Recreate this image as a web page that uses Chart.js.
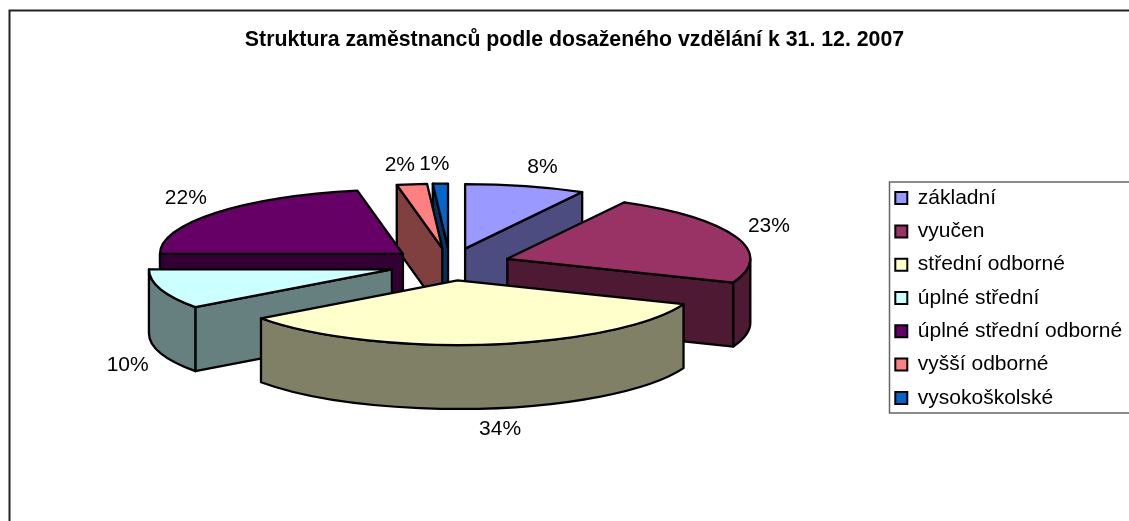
<!DOCTYPE html>
<html>
<head>
<meta charset="utf-8">
<title>Struktura zaměstnanců</title>
<script src="https://cdn.jsdelivr.net/npm/chart.js@4/dist/chart.umd.js"></script>
<style>
  html, body { margin: 0; padding: 0; background: #fff; overflow: hidden; }
  canvas { display: block; }
</style>
</head>
<body>
<canvas id="chart" width="1129" height="521"></canvas>
<script>
const TITLE = "Struktura zaměstnanců podle dosaženého vzdělání k 31. 12. 2007";
const CATEGORIES = ["základní", "vyučen", "střední odborné", "úplné střední", "úplné střední odborné", "vyšší odborné", "vysokoškolské"];
const SHARES = [8, 23, 34, 10, 22, 2, 1];
const TOP_COLORS = ["#9999ff", "#993366", "#ffffcc", "#ccffff", "#660066", "#ff8080", "#0066cc"];
const SIDE_COLORS = ["#4c4c80", "#4d1933", "#808066", "#668080", "#330033", "#804040", "#003366"];

// --- fake 3D: the pie is squashed into an ellipse and extruded downwards ------
const FONT = '"Liberation Sans", Arial, sans-serif';
const RADIUS = 243, SQUASH = 64.5 / 243, DEPTH = 64, EXPLODE = 61, OUTLINE = 2.3;

function slicePath(ctx, c, r, s, e) {
  ctx.beginPath();
  ctx.moveTo(c.x, c.y);
  ctx.ellipse(c.x, c.y, r, r * SQUASH, 0, s, e);
  ctx.closePath();
}

function paint(ctx, fill) {
  ctx.fillStyle = fill;
  ctx.fill();
  ctx.stroke();
}

// radial cut face from the apex to the rim at angle t
function cutFace(ctx, c, r, t, fill) {
  const rx = c.x + Math.cos(t) * r, ry = c.y + Math.sin(t) * r * SQUASH;
  ctx.beginPath();
  ctx.moveTo(c.x, c.y);
  ctx.lineTo(rx, ry);
  ctx.lineTo(rx, ry + DEPTH);
  ctx.lineTo(c.x, c.y + DEPTH);
  ctx.closePath();
  paint(ctx, fill);
}

function rimWall(ctx, c, r, s, e, fill) {
  // only the front half of the rim (canvas angles 0..PI) can be seen
  const from = Math.max(s, 0), to = Math.min(e, Math.PI);
  if (to <= from) return;
  ctx.beginPath();
  ctx.ellipse(c.x, c.y, r, r * SQUASH, 0, from, to);
  ctx.ellipse(c.x, c.y + DEPTH, r, r * SQUASH, 0, to, from, true);
  ctx.closePath();
  paint(ctx, fill);
}

const pie3d = {
  id: "pie3d",
  beforeDraw(chart) {
    // sheet frame: runs off the right and bottom of the picture
    const { ctx, width, height } = chart;
    ctx.save();
    ctx.strokeStyle = "#222";
    ctx.lineWidth = 2;
    ctx.beginPath();
    ctx.moveTo(9.5, height); ctx.lineTo(9.5, 10.5); ctx.lineTo(width, 10.5);
    ctx.stroke();
    ctx.restore();
  },
  afterLayout(chart) {
    // legend hangs lower than the pie centre
    const lg = chart.legend;
    lg.left = 883;
    lg.top += 64;
    lg.bottom += 64;
  },
  beforeDatasetDraw(chart) {
    const { ctx } = chart;
    const arcs = chart.getDatasetMeta(0).data.map((el, i) => {
      const mid = (el.startAngle + el.endAngle) / 2;
      const off = el.options.offset;
      return {
        i, s: el.startAngle, e: el.endAngle, r: el.outerRadius, mid,
        c: { x: el.x + Math.cos(mid) * off, y: el.y + Math.sin(mid) * off * SQUASH },
      };
    });
    ctx.save();
    ctx.strokeStyle = "#000";
    ctx.lineWidth = OUTLINE;
    ctx.lineJoin = "round";
    // back to front
    arcs.sort((a, b) => Math.sin(a.mid) - Math.sin(b.mid));
    for (const a of arcs) {
      const side = SIDE_COLORS[a.i];
      if (Math.cos(a.s) < -1e-6) cutFace(ctx, a.c, a.r, a.s, side);
      if (Math.cos(a.e) > 1e-6) cutFace(ctx, a.c, a.r, a.e, side);
      rimWall(ctx, a.c, a.r, a.s, a.e, side);
      slicePath(ctx, a.c, a.r, a.s, a.e);
      paint(ctx, TOP_COLORS[a.i]);
    }
    // percent labels sit just outside the rim
    ctx.fillStyle = "#000";
    ctx.font = "21px " + FONT;
    ctx.textAlign = "center";
    ctx.textBaseline = "middle";
    for (const a of arcs) {
      const cx = Math.cos(a.mid), sy = Math.sin(a.mid);
      const lx = a.c.x + cx * a.r + Math.sign(cx) * Math.sqrt(Math.abs(cx)) * 34;
      const ly = a.c.y + sy * a.r * SQUASH + Math.sign(sy) * Math.sqrt(Math.abs(sy)) * 20 + (sy > 0 ? DEPTH : 0) + 1;
      ctx.fillText(SHARES[a.i] + "%", lx, ly);
    }
    ctx.restore();
    return false;
  },
};

const legendBox = {
  id: "legendBox",
  afterDraw(chart) {
    const { ctx, width } = chart;
    ctx.save();
    ctx.strokeStyle = "#666";
    ctx.lineWidth = 1.5;
    ctx.strokeRect(889.5, 182, width, 231);
    ctx.restore();
  },
};

new Chart(document.getElementById("chart"), {
  type: "pie",
  data: {
    labels: CATEGORIES,
    datasets: [{
      data: SHARES,
      backgroundColor: TOP_COLORS,
      borderColor: "#000",
      borderWidth: 2,
      offset: EXPLODE,
      radius: RADIUS,
    }],
  },
  options: {
    responsive: false,
    animation: false,
    events: [],
    radius: RADIUS,
    layout: { padding: { left: 20, right: 0, top: 0, bottom: 53 } },
    plugins: {
      title: {
        display: true,
        text: TITLE,
        color: "#000",
        font: { family: FONT, size: 21.3, weight: "bold" },
        padding: { top: 27, bottom: 8 },
      },
      legend: {
        position: "right",
        labels: {
          color: "#000",
          font: { family: FONT, size: 21 },
          boxWidth: 12,
          boxHeight: 12,
          padding: 12.3,
        },
      },
      tooltip: { enabled: false },
    },
  },
  plugins: [pie3d, legendBox],
});
</script>
</body>
</html>
